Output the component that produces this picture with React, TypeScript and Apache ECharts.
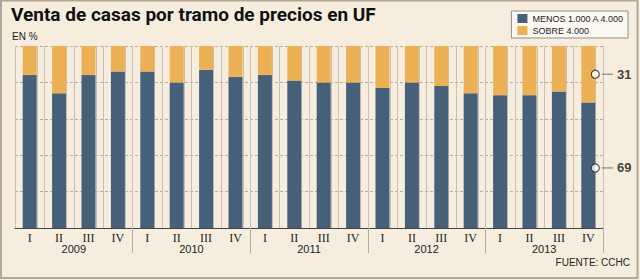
import React, { useEffect, useRef } from "react";
import * as echarts from "echarts";

const quarters = ["I", "II", "III", "IV"];
const years = ["2009", "2010", "2011", "2012", "2013"];
const categories = years.flatMap((y) => quarters.map((q) => `${q} ${y}`));
const menos = [84, 74, 84, 86, 86, 80, 87, 83, 84, 81, 80, 80, 77, 80, 78, 74, 73, 73, 75, 69];
const sobre = [16, 26, 16, 14, 14, 20, 13, 17, 16, 19, 20, 20, 23, 20, 22, 26, 27, 27, 25, 31];
const seriesNames = ["MENOS 1.000 A 4.000", "SOBRE 4.000"];
const annotPos = [84.5, 33];
const titleText = "Venta de casas por tramo de precios en UF";
const unitText = "EN %";
const sourceText = "FUENTE: CCHC";

export default function App() {
  const ref = useRef<HTMLDivElement>(null);
  useEffect(() => {
    document.body.style.margin = "0";
    const chart = echarts.init(ref.current!, null, { renderer: "svg" });
    const last = categories.length - 1;
    const sub = Array.from({ length: categories.length * 4 }, (_, i) => String(i));
    chart.setOption({
      animation: false,
      textStyle: { fontFamily: "Liberation Sans" },
      title: [
        {
          text: titleText,
          left: 11,
          top: 5,
          padding: 0,
          textStyle: { fontFamily: "Roboto", fontWeight: "bold", fontSize: 19, color: "#111" },
        },
        {
          text: unitText,
          left: 12,
          top: 31,
          padding: 0,
          textStyle: { fontFamily: "Liberation Sans", fontWeight: "normal", fontSize: 10, color: "#222" },
        },
      ],
      legend: {
        data: seriesNames,
        orient: "vertical",
        right: 12,
        top: 11,
        itemWidth: 10,
        itemHeight: 9,
        itemGap: 3,
        padding: [3, 4, 3, 6],
        icon: "rect",
        backgroundColor: "#fcf8f1",
        borderColor: "#8f8f8f",
        borderWidth: 1,
        textStyle: { fontSize: 9, color: "#222", fontFamily: "Liberation Sans" },
      },
      grid: { left: 15, right: 37, top: 46, bottom: 52 },
      xAxis: [
        {
          type: "category",
          data: categories,
          axisTick: { show: false },
          axisLine: { lineStyle: { color: "#4a4540", width: 1 } },
          axisLabel: {
            formatter: (v: string) => v.split(" ")[0],
            fontFamily: "Liberation Serif",
            fontSize: 12,
            color: "#222",
            margin: 4,
          },
          splitLine: { show: true, lineStyle: { color: "#c9c0b3", width: 1 } },
        },
        {
          type: "category",
          data: years,
          position: "bottom",
          axisLine: { show: false },
          axisTick: {
            show: true,
            length: 25,
            interval: (i: number) => i > 0,
            lineStyle: { color: "#b5aca0", width: 1 },
          },
          axisLabel: { fontFamily: "Liberation Sans", fontSize: 11, color: "#222", margin: 15 },
        },
        {
          type: "category",
          data: sub,
          axisLine: { show: false },
          axisTick: { show: false },
          axisLabel: { show: false },
          splitLine: {
            show: true,
            interval: (i: number) => i % 4 === 3,
            lineStyle: { color: "#c9c0b3", width: 1 },
          },
        },
      ],
      yAxis: {
        type: "value",
        min: 0,
        max: 100,
        interval: 20,
        axisLabel: { show: false },
        axisLine: { show: false },
        axisTick: { show: false },
        splitLine: { lineStyle: { color: "#b5ab9f", type: [3, 2], width: 1 } },
      },
      series: [
        {
          name: seriesNames[0],
          type: "bar",
          stack: "a",
          data: menos,
          barWidth: 14,
          itemStyle: { color: "#46607a" },
        },
        {
          name: seriesNames[1],
          type: "bar",
          stack: "a",
          data: sobre,
          barWidth: 14,
          itemStyle: { color: "#ecb155" },
        },
        {
          type: "scatter",
          symbol: "circle",
          symbolSize: 8,
          symbolOffset: [7, 0],
          z: 5,
          itemStyle: { color: "#fff", borderColor: "#222", borderWidth: 1.2 },
          label: {
            show: true,
            position: "right",
            distance: 2,
            formatter: (p: any) => `{l|}{v|${p.data.txt}}`,
            rich: {
              l: { width: 11, height: 1, backgroundColor: "#555" },
              v: { fontFamily: "Liberation Sans", fontWeight: "bold", fontSize: 13, color: "#111", padding: [0, 0, 0, 4] },
            },
          },
          data: [
            { value: [categories[last], annotPos[0]], txt: sobre[last] },
            { value: [categories[last], annotPos[1]], txt: menos[last] },
          ],
        },
      ],
      graphic: [
        {
          type: "text",
          right: 10,
          bottom: 13,
          style: { text: sourceText, fontFamily: "Liberation Sans Narrow, Liberation Sans", fontSize: 10, fill: "#222" },
        },
        {
          type: "rect",
          shape: { x: 1, y: 0.5, width: 636.5, height: 277.5 },
          style: { fill: "none", stroke: "#b3a597", lineWidth: 2 },
          silent: true,
        },
      ],
    });
    return () => chart.dispose();
  }, []);
  return <div ref={ref} style={{ width: 640, height: 280, background: "#f7eddf" }} />;
}
